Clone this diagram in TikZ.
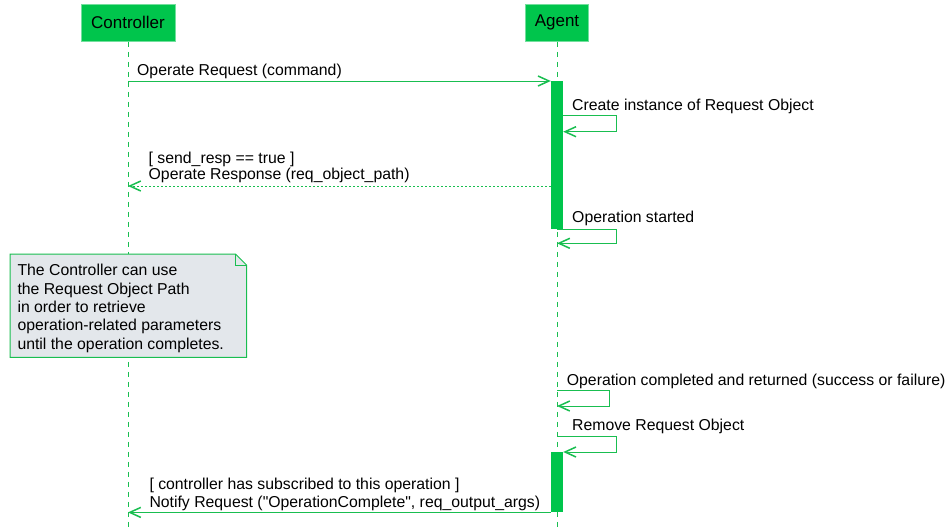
\documentclass[tikz,border=0pt]{standalone}
\usepackage{fontspec}
\setmainfont{Liberation Sans}[Ligatures=TeXOff]
\usetikzlibrary{arrows.meta,calc}
\definecolor{umlgreen}{RGB}{0,197,76}
\definecolor{linegreen}{RGB}{25,190,80}
\definecolor{notefill}{RGB}{227,231,235}
\begin{document}
\begin{tikzpicture}[x=1pt,y=-1pt,
  participant/.style={rectangle, fill=umlgreen, draw=umlgreen!55!white, line width=0.6pt, minimum height=37.5pt, inner sep=0pt, font=\fontsize{17}{20}\selectfont},
  lifeline/.style={draw=linegreen, line width=0.9pt, dash pattern=on 5pt off 5pt},
  actbar/.style={rectangle, fill=umlgreen, draw=none, minimum width=12pt, inner sep=0pt},
  msg/.style={draw=linegreen, line width=1pt, line join=miter, -{Straight Barb[length=11pt,width=10pt,line width=1.5pt]}},
  retmsg/.style={msg, dash pattern=on 2pt off 2pt},
  lbl/.style={anchor=base west, inner sep=0pt, align=left, font=\fontsize{15.8}{16}\selectfont},
  notebox/.style={fill=notefill, draw=linegreen, line width=1pt, line join=miter},
]
\useasboundingbox (0,0) rectangle (950,531);

% participants
\node[participant, minimum width=94pt] (ctrl) at (128,22.85) {Controller};
\node[participant, minimum width=63pt] (agent) at (557,22.85) {Agent};

% lifelines
\coordinate (ctrlEnd) at (128,531);
\coordinate (agentEnd) at (557,531);
\draw[lifeline] (ctrl.south) -- (ctrlEnd);
\draw[lifeline] (agent.south) -- (agentEnd);

% activation bars
\node[actbar, minimum height=148pt, anchor=north] (act1) at (557,81) {};
\node[actbar, minimum height=60pt, anchor=north] (act2) at (557,452) {};

% 1: Operate Request
\draw[msg] (ctrl |- act1.north west) -- (act1.north west);
\node[lbl] (l1) at (137,75) {Operate Request (command)};

% 2: Create instance
\coordinate (s1tr) at (616,115.7);
\coordinate (s1br) at (616,131.7);
\draw[msg] (act1.east |- s1tr) -- (s1tr) -- (s1br) -- (act1.east |- s1br);
\node[lbl] (l2) at (572,110) {Create instance of Request Object};

% 3: Operate Response
\coordinate (r1y) at (300,186);
\draw[retmsg] (act1.west |- r1y) -- (ctrl |- r1y);
\node[lbl] (l3) at (148.5,179.5) {[ send\_resp == true ]\\Operate Response (req\_object\_path)};

% 4: Operation started
\coordinate (s2tr) at (616,229);
\coordinate (s2br) at (616,243.3);
\draw[msg] (agent |- s2tr) -- (s2tr) -- (s2br) -- (agent |- s2br);
\node[lbl] (l4) at (572,222.7) {Operation started};

% note
\coordinate (nNW) at (10,254);
\coordinate (nA) at (235.5,254);
\coordinate (nB) at (246.5,265);
\coordinate (nSE) at (246.5,357.3);
\coordinate (nSW) at (10,357.3);
\draw[notebox] (nNW) -- (nA) -- (nB) -- (nSE) -- (nSW) -- cycle;
\draw[notebox, fill=none] (nA) -- (nA |- nB) -- (nB);
\node[lbl, font=\fontsize{15.8}{18.3}\selectfont] (notetext) at (17.3,349) {The Controller can use\\the Request Object Path\\in order to retrieve\\operation-related parameters\\until the operation completes.};

% 5: Operation completed
\coordinate (s3tr) at (609.3,390.7);
\coordinate (s3br) at (609.3,406);
\draw[msg] (agent |- s3tr) -- (s3tr) -- (s3br) -- (agent |- s3br);
\node[lbl] (l5) at (566.7,385) {Operation completed and returned (success or failure)};

% 6: Remove Request Object
\coordinate (s4tr) at (616,436.7);
\coordinate (s4br) at (616,452);
\draw[msg] (agent |- s4tr) -- (s4tr) -- (s4br) -- (act2.east |- s4br);
\node[lbl] (l6) at (572,430.7) {Remove Request Object};

% 7: Notify Request
\draw[msg] (act2.south west) -- (ctrl |- act2.south west);
\node[lbl, font=\fontsize{15.8}{17.5}\selectfont] (l7) at (149.3,507) {[ controller has subscribed to this operation ]\\Notify Request ("OperationComplete", req\_output\_args)};
\end{tikzpicture}
\end{document}
